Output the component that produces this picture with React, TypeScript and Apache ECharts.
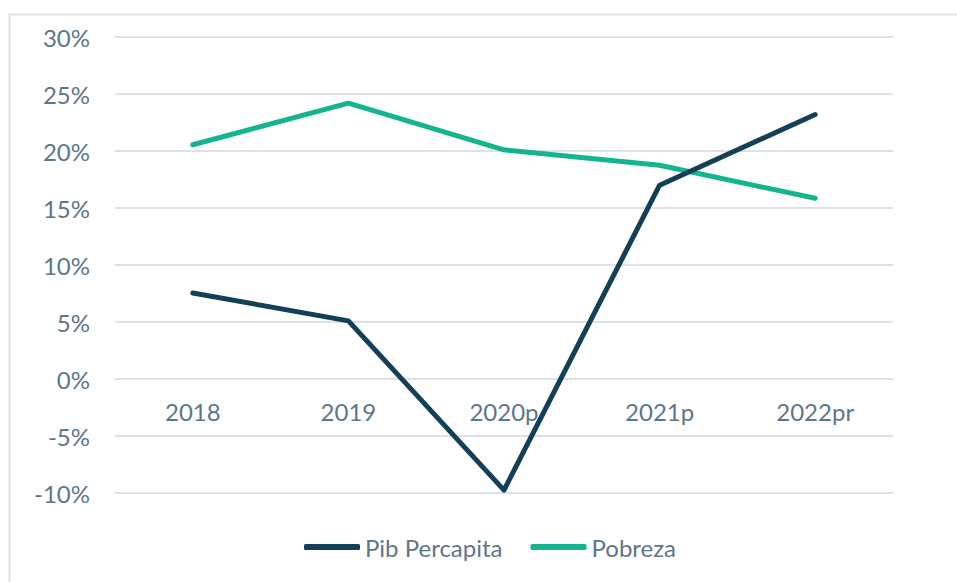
import React, { useEffect, useRef } from "react";
import * as echarts from "echarts";

const categories = ["2018", "2019", "2020p", "2021p", "2022pr"];
const pibPercapita = [7.55, 5.1, -9.75, 17.0, 23.2];
const pobreza = [20.55, 24.2, 20.1, 18.75, 15.85];
const yMin = -10;
const yMax = 30;
const yInterval = 5;

const TEXT = "#5d7689";
const GRID = "#dce1e5";
const FONT = "Lato, 'Noto Sans', sans-serif";
const PIB_COLOR = "#133f58";
const POB_COLOR = "#13b48f";

const GRID_TOP = 37;
const GRID_BOTTOM = 89;
const CHART_H = 582;

export default function App() {
  const ref = useRef<HTMLDivElement>(null);
  useEffect(() => {
    if (!ref.current) return;
    const chart = echarts.init(ref.current, undefined, { renderer: "svg" });
    const plotH = CHART_H - GRID_TOP - GRID_BOTTOM;
    const zeroOffset = ((0 - yMin) / (yMax - yMin)) * plotH;
    chart.setOption({
      animation: false,
      backgroundColor: "#ffffff",
      textStyle: { fontFamily: FONT },
      graphic: [
        {
          type: "rect",
          shape: { x: 9.5, y: 14.5, width: 1200, height: 1200 },
          style: { fill: "none", stroke: GRID, lineWidth: 2 },
          silent: true,
          z: -1,
        },
      ],
      grid: { left: 115, right: 64, top: GRID_TOP, bottom: GRID_BOTTOM, containLabel: false },
      legend: {
        bottom: 18,
        left: 299,
        itemWidth: 56,
        itemHeight: 6,
        itemGap: 28,
        textStyle: { color: TEXT, fontSize: 24, fontFamily: FONT },
        data: [
          { name: "Pib Percapita", icon: "roundRect", itemStyle: { color: PIB_COLOR } },
          { name: "Pobreza", icon: "roundRect", itemStyle: { color: POB_COLOR } },
        ],
      },
      xAxis: {
        type: "category",
        data: categories,
        boundaryGap: true,
        axisLine: { show: false },
        axisTick: { show: false },
        axisLabel: {
          color: TEXT,
          fontSize: 24,
          margin: 20 - zeroOffset,
          fontFamily: FONT,
        },
      },
      yAxis: {
        type: "value",
        min: yMin,
        max: yMax,
        interval: yInterval,
        axisLine: { show: false },
        axisTick: { show: false },
        axisLabel: {
          color: TEXT,
          fontSize: 24,
          margin: 25,
          fontFamily: FONT,
          formatter: "{value}%",
        },
        splitLine: { lineStyle: { color: GRID, width: 2 } },
      },
      series: [
        {
          name: "Pib Percapita",
          type: "line",
          data: pibPercapita,
          symbol: "none",
          lineStyle: { color: PIB_COLOR, width: 5, cap: "round", join: "round" },
          itemStyle: { color: PIB_COLOR },
          z: 3,
        },
        {
          name: "Pobreza",
          type: "line",
          data: pobreza,
          symbol: "none",
          lineStyle: { color: POB_COLOR, width: 5, cap: "round", join: "round" },
          itemStyle: { color: POB_COLOR },
          z: 2,
        },
      ],
    });
    return () => chart.dispose();
  }, []);
  return (
    <div
      ref={ref}
      style={{ position: "absolute", left: 0, top: 0, width: 957, height: 582 }}
    />
  );
}
